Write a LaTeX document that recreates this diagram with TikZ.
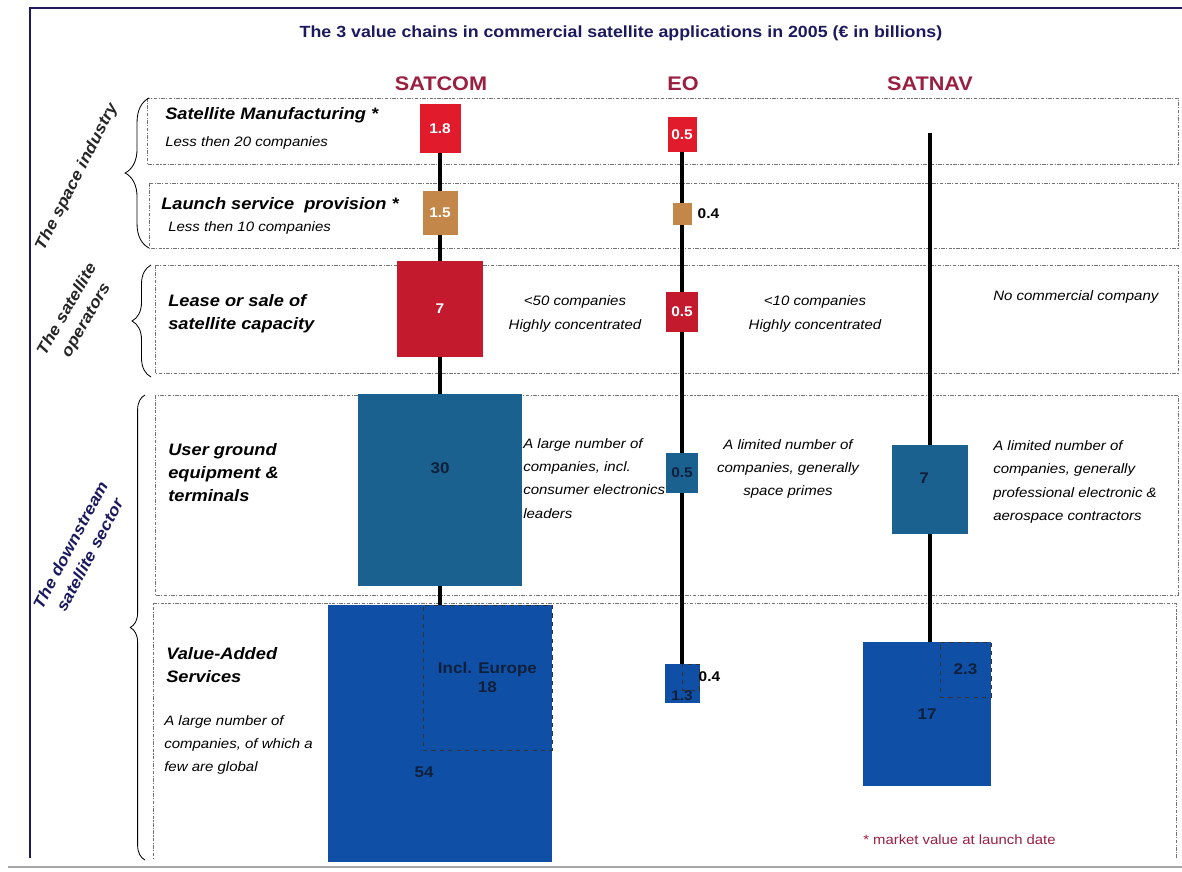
\documentclass[tikz,border=0pt]{standalone}
\usepackage{fontspec}
\setmainfont{Liberation Sans}[FakeStretch=1.1]
\usepackage{tikz}
\usetikzlibrary{positioning, decorations.pathreplacing, calc}
\definecolor{titleblue}{HTML}{1C1A5E}
\definecolor{headred}{HTML}{9A1F40}
\definecolor{mfgred}{HTML}{E21B2C}
\definecolor{opred}{HTML}{C41A2E}
\definecolor{launchtan}{HTML}{C4874A}
\definecolor{groundteal}{HTML}{1A6190}
\definecolor{vasblue}{HTML}{0F4FA6}
\definecolor{numdark}{HTML}{10203A}

\begin{document}
\begin{tikzpicture}[
  x=0.025cm, y=-0.025cm,
  sz/.style 2 args={minimum width=#1*0.025cm, minimum height=#2*0.025cm},
  band/.style={draw=black!55, line width=0.6pt, dash pattern=on 2.5pt off 1pt on 0.8pt off 1pt},
  valbox/.style={rectangle, inner sep=0pt, font=\fontsize{10}{12}\selectfont\bfseries, text=white},
  darkbox/.style={rectangle, inner sep=0pt, font=\fontsize{11}{13}\selectfont\bfseries, text=numdark},
  subbox/.style={rectangle, draw=black!80, dashed, line width=0.5pt, inner sep=0pt, font=\fontsize{11}{14}\selectfont\bfseries, text=numdark, align=center},
  numlab/.style={font=\fontsize{10}{12}\selectfont\bfseries, inner sep=0pt},
  chainline/.style={line width=2.3pt, black},
  header/.style={font=\fontsize{14}{16}\selectfont\bfseries, text=headred},
  rowlab/.style={font=\fontsize{11.8}{16.5}\selectfont\bfseries\itshape, align=left, anchor=west, inner sep=0pt},
  note/.style={font=\fontsize{9.7}{16.5}\selectfont\itshape, align=left, anchor=west, inner sep=0pt},
  side/.style={font=\fontsize{11.5}{15.5}\selectfont\bfseries\itshape, align=center, text=black!85, inner sep=0pt},
  sidebrace/.style={decorate, decoration={brace, amplitude=#1}, line width=0.6pt}
]
  \useasboundingbox (0,0) rectangle (1182,872);

  % Frame and title
  \draw[titleblue, line width=1.4pt] (30,858) -- (30,8) -- (1182,8);
  \draw[black!35, line width=0.8pt] (8,867) -- (1182,867);
  \node[font=\fontsize{11.5}{14}\selectfont\bfseries, text=titleblue] (title) at (621,33) {The 3 value chains in commercial satellite applications in 2005 (€ in billions)};

  % Column headers
  \node[header] (satcom) at (441,84) {SATCOM};
  \node[header] (eo) at (683,84) {EO};
  \node[header] (satnav) at (930,84) {SATNAV};

  % Row bands
  \draw[band] (147,98) rectangle (1178,164);
  \draw[band] (149,183) rectangle (1178,248);
  \draw[band] (155,265) rectangle (1178,373);
  \draw[band] (155,395) rectangle (1178,595);
  \draw[band] (1176,858) -- (1176,603) -- (153,603) -- (153,858);

  % Side braces and labels
  \draw[sidebrace=17pt] (149,248) -- (149,98);
  \draw[sidebrace=13.5pt] (151,377) -- (151,265);
  \draw[sidebrace=10.5pt] (145,860) -- (145,395);
  \node[side, rotate=63] (spaceind) at (77,177) {The space industry};
  \node[side, rotate=60] (satop) at (77,315) {The satellite\\operators};
  \node[side, rotate=62, text=titleblue] (downstr) at (80,550) {The downstream\\satellite sector};

  % SATCOM column
  \node[valbox, fill=mfgred, sz={41}{49}] (sc1) at (440,128.5) {1.8};
  \node[valbox, fill=launchtan, sz={35}{44}] (sc2) at (440,213) {1.5};
  \node[valbox, fill=opred, sz={86}{96}] (sc3) at (440,309) {7};
  \node[darkbox, fill=groundteal, sz={164}{192}, label={[darkbox, yshift=0.55cm]center:30}] (sc4) at (440,490) {};
  \node[darkbox, fill=vasblue, sz={224}{257}, label={[darkbox, xshift=-0.4cm, yshift=-0.96cm]center:54}] (sc5) at (440,733.5) {};
  \node[subbox, sz={129}{145}, anchor=north east] (sc5eu) at (sc5.north east) {Incl. Europe\\18};

  \draw[chainline] (sc1) -- (sc2);
  \draw[chainline] (sc2) -- (sc3);
  \draw[chainline] (sc3) -- (sc4);
  \draw[chainline] (sc4) -- (sc5);

  % EO column
  \node[valbox, fill=mfgred, sz={29}{35}] (eo1) at (682,134.5) {0.5};
  \node[valbox, fill=launchtan, sz={19}{22}] (eo2) at (682,214) {};
  \node[numlab, right=4pt of eo2] (eo2v) {0.4};
  \node[valbox, fill=opred, sz={32}{40}] (eo3) at (682,312) {0.5};
  \node[darkbox, fill=groundteal, sz={32}{40}, font=\fontsize{10}{12}\selectfont\bfseries] (eo4) at (682,473) {0.5};
  \node[darkbox, fill=vasblue, sz={35}{39}, label={[darkbox, font=\fontsize{10}{12}\selectfont\bfseries, yshift=-0.31cm]center:1.3}] (eo5) at (682,683.5) {};
  \node[subbox, sz={17}{26}, anchor=north east] (eo5sub) at (eo5.north east) {};
  \node[numlab, anchor=west, xshift=-1pt] (eo5v) at (eo5sub.east) {0.4};

  \draw[chainline] (eo1) -- (eo2);
  \draw[chainline] (eo2) -- (eo3);
  \draw[chainline] (eo3) -- (eo4);
  \draw[chainline] (eo4) -- (eo5);

  % SATNAV column
  \coordinate (sntop) at (930,133);
  \node[darkbox, fill=groundteal, sz={76}{89}, label={[darkbox, xshift=-0.15cm, yshift=0.29cm]center:7}] (sn1) at (930,489.5) {};
  \node[darkbox, fill=vasblue, sz={128}{144}] (sn2) at (927,714) {17};
  \node[subbox, sz={51}{55}, anchor=north east] (sn2sub) at (sn2.north east) {2.3};

  \draw[chainline] (sntop) -- (sn1);
  \draw[chainline] (sn1) -- (sn1 |- sn2.north);

  % Row texts
  \node[rowlab] (smlab) at (165,115) {Satellite Manufacturing *};
  \node[note] (smnote) at (165,143) {Less then 20 companies};
  \node[rowlab] (lslab) at (161,205) {Launch service~ provision *};
  \node[note] (lsnote) at (168,228) {Less then 10 companies};

  \node[rowlab] (oplab) at (168,314) {Lease or sale of\\satellite capacity};
  \node[note, anchor=center, align=center] (opsc) at (575,314) {<50 companies\\Highly concentrated};
  \node[note, anchor=center, align=center] (opeo) at (815,314) {<10 companies\\Highly concentrated};
  \node[note] (opsn) at (993,297) {No commercial company};

  \node[rowlab] (uglab) at (168,472.5) {User ground\\equipment \&\\terminals};
  \node[note] (ugsc) at (523,478.5) {A large number of\\companies, incl.\\consumer electronics\\leaders};
  \node[note, anchor=center, align=center] (ugeo) at (788,469) {A limited number of\\companies, generally\\space primes};
  \node[note] (ugsn) at (993,482) {A limited number of\\companies, generally\\professional electronic \&\\aerospace contractors};

  \node[rowlab] (valab) at (166,665) {Value-Added\\Services};
  \node[note] (vanote) at (164,745) {A large number of\\companies, of which a\\few are global};

  % Footnote
  \node[font=\fontsize{9.6}{12}\selectfont, text=headred, anchor=west, inner sep=0pt] (foot) at (863,840) {* market value at launch date};
\end{tikzpicture}
\end{document}
